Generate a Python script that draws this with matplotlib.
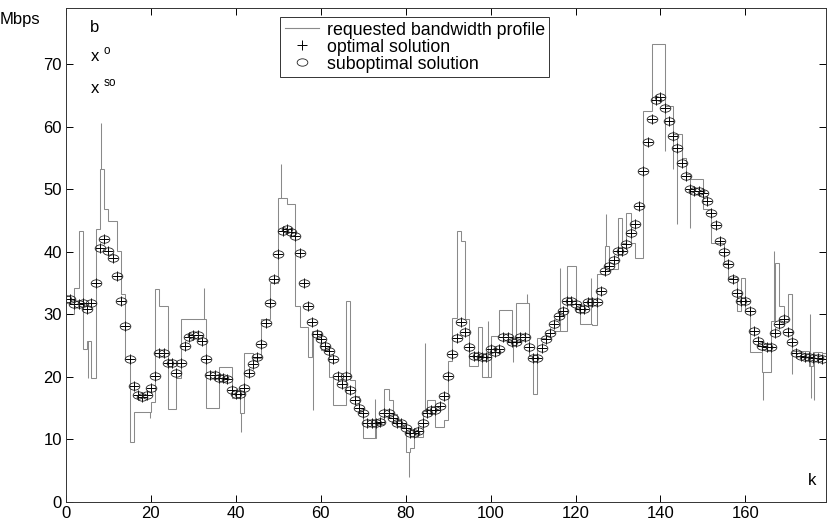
import numpy as np
import matplotlib
matplotlib.use("Agg")
import matplotlib.pyplot as plt
from matplotlib.markers import MarkerStyle
from matplotlib.transforms import Affine2D
from matplotlib.lines import Line2D

plt.rcParams['font.family'] = ['Liberation Sans', 'DejaVu Sans']
plt.rcParams['mathtext.fontset'] = 'custom'
plt.rcParams['mathtext.rm'] = 'Liberation Sans'

# requested bandwidth b(k), one value per slot k
b_req = [30.1, 30.1, 34.3, 43.3, 24.4, 25.8, 19.8, 43.7, 53.3, 46.8,
         44.9, 44.9, 40.1, 33.3, 22.9, 9.6, 14.4, 14.4, 14.4, 14.4,
         16.0, 34.1, 31.4, 31.4, 14.8, 14.8, 19.8, 29.3, 29.3, 29.3,
         29.3, 29.3, 29.3, 15.0, 15.0, 15.0, 21.6, 21.6, 21.6, 16.6,
         16.6, 14.2, 23.8, 23.8, 23.0, 23.0, 29.3, 29.3, 35.1, 35.1,
         48.7, 48.7, 47.7, 47.7, 31.4, 28.0, 28.0, 23.2, 27.4, 27.4,
         24.3, 24.3, 20.0, 15.5, 15.5, 15.5, 32.2, 19.5, 17.0, 14.5,
         10.2, 10.2, 10.2, 12.5, 12.5, 18.0, 16.3, 14.0, 13.0, 12.0,
         8.0, 8.6, 10.4, 10.4, 14.5, 16.3, 16.3, 12.0, 12.0, 13.1,
         22.5, 29.5, 43.4, 41.8, 29.3, 21.8, 21.8, 28.0, 20.0, 20.0,
         26.6, 26.6, 30.7, 30.7, 30.7, 25.8, 31.9, 31.9, 31.9, 23.3,
         17.3, 26.2, 26.2, 26.5, 27.0, 27.4, 27.4, 27.4, 37.8, 37.8,
         30.4, 28.5, 28.5, 28.5, 28.3, 36.5, 36.5, 41.0, 37.3, 37.3,
         45.5, 41.5, 46.3, 41.5, 39.1, 39.1, 62.6, 62.6, 73.2, 73.2,
         73.2, 63.3, 63.3, 58.8, 58.8, 55.0, 52.5, 51.6, 51.6, 51.6,
         46.9, 46.9, 41.5, 41.5, 41.5, 38.3, 35.9, 36.0, 30.6, 35.9,
         30.6, 24.0, 24.0, 24.0, 20.8, 20.8, 29.0, 38.3, 31.4, 29.0,
         33.3, 24.2, 24.2, 24.2, 24.2, 21.8, 24.0, 24.0, 23.8]

# short peaks / dips of the profile inside a slot
spike_k = [5.1, 8.3, 19.7, 32.4, 41.2, 50.7, 58.2, 72.8, 80.8, 84.5,
           99.3, 105.3, 108.6, 116.4, 123.7, 127.3, 141.1, 143.0, 143.8,
           147.0, 164.2, 166.8, 170.9, 175.2, 175.4, 176.2]
spike_val = [19.8, 60.6, 13.4, 34.3, 11.2, 54.0, 14.7, 16.5, 4.0, 25.4,
             29.0, 22.4, 33.3, 37.5, 35.9, 46.0, 56.1, 53.2, 44.5,
             43.9, 16.3, 40.2, 20.5, 30.1, 16.6, 16.3]

# optimal solution x^o(k)
x_opt = [32.4, 32.4, 31.6, 31.6, 31.8, 30.8, 31.9, 35.1, 40.6, 42.0,
         40.2, 39.1, 36.1, 32.2, 28.2, 22.9, 18.6, 17.1, 16.8, 17.1,
         18.2, 20.2, 23.9, 23.9, 22.3, 22.3, 20.6, 22.3, 24.9, 26.4,
         26.7, 26.7, 25.8, 22.9, 20.3, 20.3, 19.8, 19.8, 19.6, 17.9,
         17.3, 17.3, 18.2, 20.6, 22.0, 23.2, 25.2, 28.6, 31.8, 35.7,
         39.7, 43.4, 43.6, 43.2, 42.5, 39.9, 35.0, 31.3, 28.8, 26.9,
         26.0, 25.0, 24.2, 22.8, 20.1, 18.9, 20.1, 17.9, 16.3, 15.0,
         14.2, 12.6, 12.6, 12.6, 12.8, 14.2, 14.2, 13.4, 12.6, 12.6,
         11.8, 11.1, 11.1, 11.3, 12.6, 14.2, 14.7, 14.7, 15.3, 16.9,
         20.1, 23.6, 26.2, 28.8, 27.2, 24.8, 23.4, 23.4, 23.2, 23.2,
         24.5, 24.0, 24.5, 26.4, 26.4, 25.6, 25.6, 26.4, 26.4, 24.8,
         23.1, 23.1, 24.7, 26.0, 27.0, 28.5, 29.8, 30.5, 32.2, 32.2,
         31.6, 30.9, 30.9, 32.0, 32.0, 32.0, 33.7, 37.0, 37.8, 38.7,
         40.2, 40.2, 41.3, 43.1, 44.5, 47.4, 53.0, 57.6, 61.2, 64.3,
         64.8, 63.0, 60.9, 58.5, 56.7, 54.3, 52.2, 50.1, 49.8, 49.8,
         49.5, 48.2, 46.3, 44.3, 41.7, 40.0, 38.1, 35.6, 33.4, 32.1,
         32.1, 30.5, 27.4, 25.8, 25.0, 24.8, 24.8, 27.0, 28.5, 29.2,
         27.2, 25.6, 23.8, 23.4, 23.2, 23.2, 23.0, 23.0, 22.8]

# suboptimal solution x^so(k) sits on top of the optimal one
x_subopt = list(x_opt)

k = np.arange(len(x_opt))
edges = np.arange(len(b_req) + 1)

fig = plt.figure(figsize=(8.27, 5.22), dpi=100)
ax = fig.add_axes([0.0798, 0.0383, 0.919, 0.946])

grey = '#8a8a8a'
ax.stairs(b_req, edges, baseline=None, color=grey, lw=0.75)
base = [b_req[int(s)] for s in spike_k]
ax.vlines(spike_k, base, spike_val, color=grey, lw=0.75)

ell = MarkerStyle('o', fillstyle='none', transform=Affine2D().scale(1.45, 1.0))
ax.plot(k, x_opt, ls='none', marker='+', ms=6.5, mew=0.7, color='black')
ax.plot(k, x_subopt, ls='none', marker=ell, ms=5.3, mew=0.6, color='#222222')

ax.set_xlim(0, 179)
ax.set_ylim(0, 79)
ax.set_xticks(range(0, 161, 20))
ax.set_yticks(range(0, 71, 10))
ax.tick_params(direction='in', top=True, right=True, length=5, width=0.7,
               labelsize=12, pad=3)
for sp in ax.spines.values():
    sp.set_linewidth(0.7)
    sp.set_color('#333333')

ax.text(0.032, 0.96, 'b', transform=ax.transAxes, fontsize=12, va='center')
ax.text(0.032, 0.905, r'x $^{\mathrm{o}}$', transform=ax.transAxes, fontsize=12, va='center')
ax.text(0.032, 0.84, r'x $^{\mathrm{so}}$', transform=ax.transAxes, fontsize=12, va='center')
ax.text(0.976, 0.028, 'k', transform=ax.transAxes, fontsize=12, va='bottom')
fig.text(0.024, 0.962, 'Mbps', fontsize=12, ha='center', va='center')

handles = [Line2D([], [], color=grey, lw=0.8),
           Line2D([], [], ls='none', marker='+', ms=6.5, mew=0.7, color='black'),
           Line2D([], [], ls='none', marker=ell, ms=5.3, mew=0.6, color='#222222')]
labels = ['requested bandwidth profile', 'optimal solution', 'suboptimal solution']
leg = ax.legend(handles, labels, loc='upper left', bbox_to_anchor=(0.282, 0.982),
                fontsize=12.8, frameon=True, fancybox=False, borderpad=0.25,
                labelspacing=0.0, handlelength=1.9, handletextpad=0.45,
                borderaxespad=0)
leg.get_frame().set_edgecolor('black')
leg.get_frame().set_linewidth(0.7)

fig.savefig('out.png', dpi=100)
